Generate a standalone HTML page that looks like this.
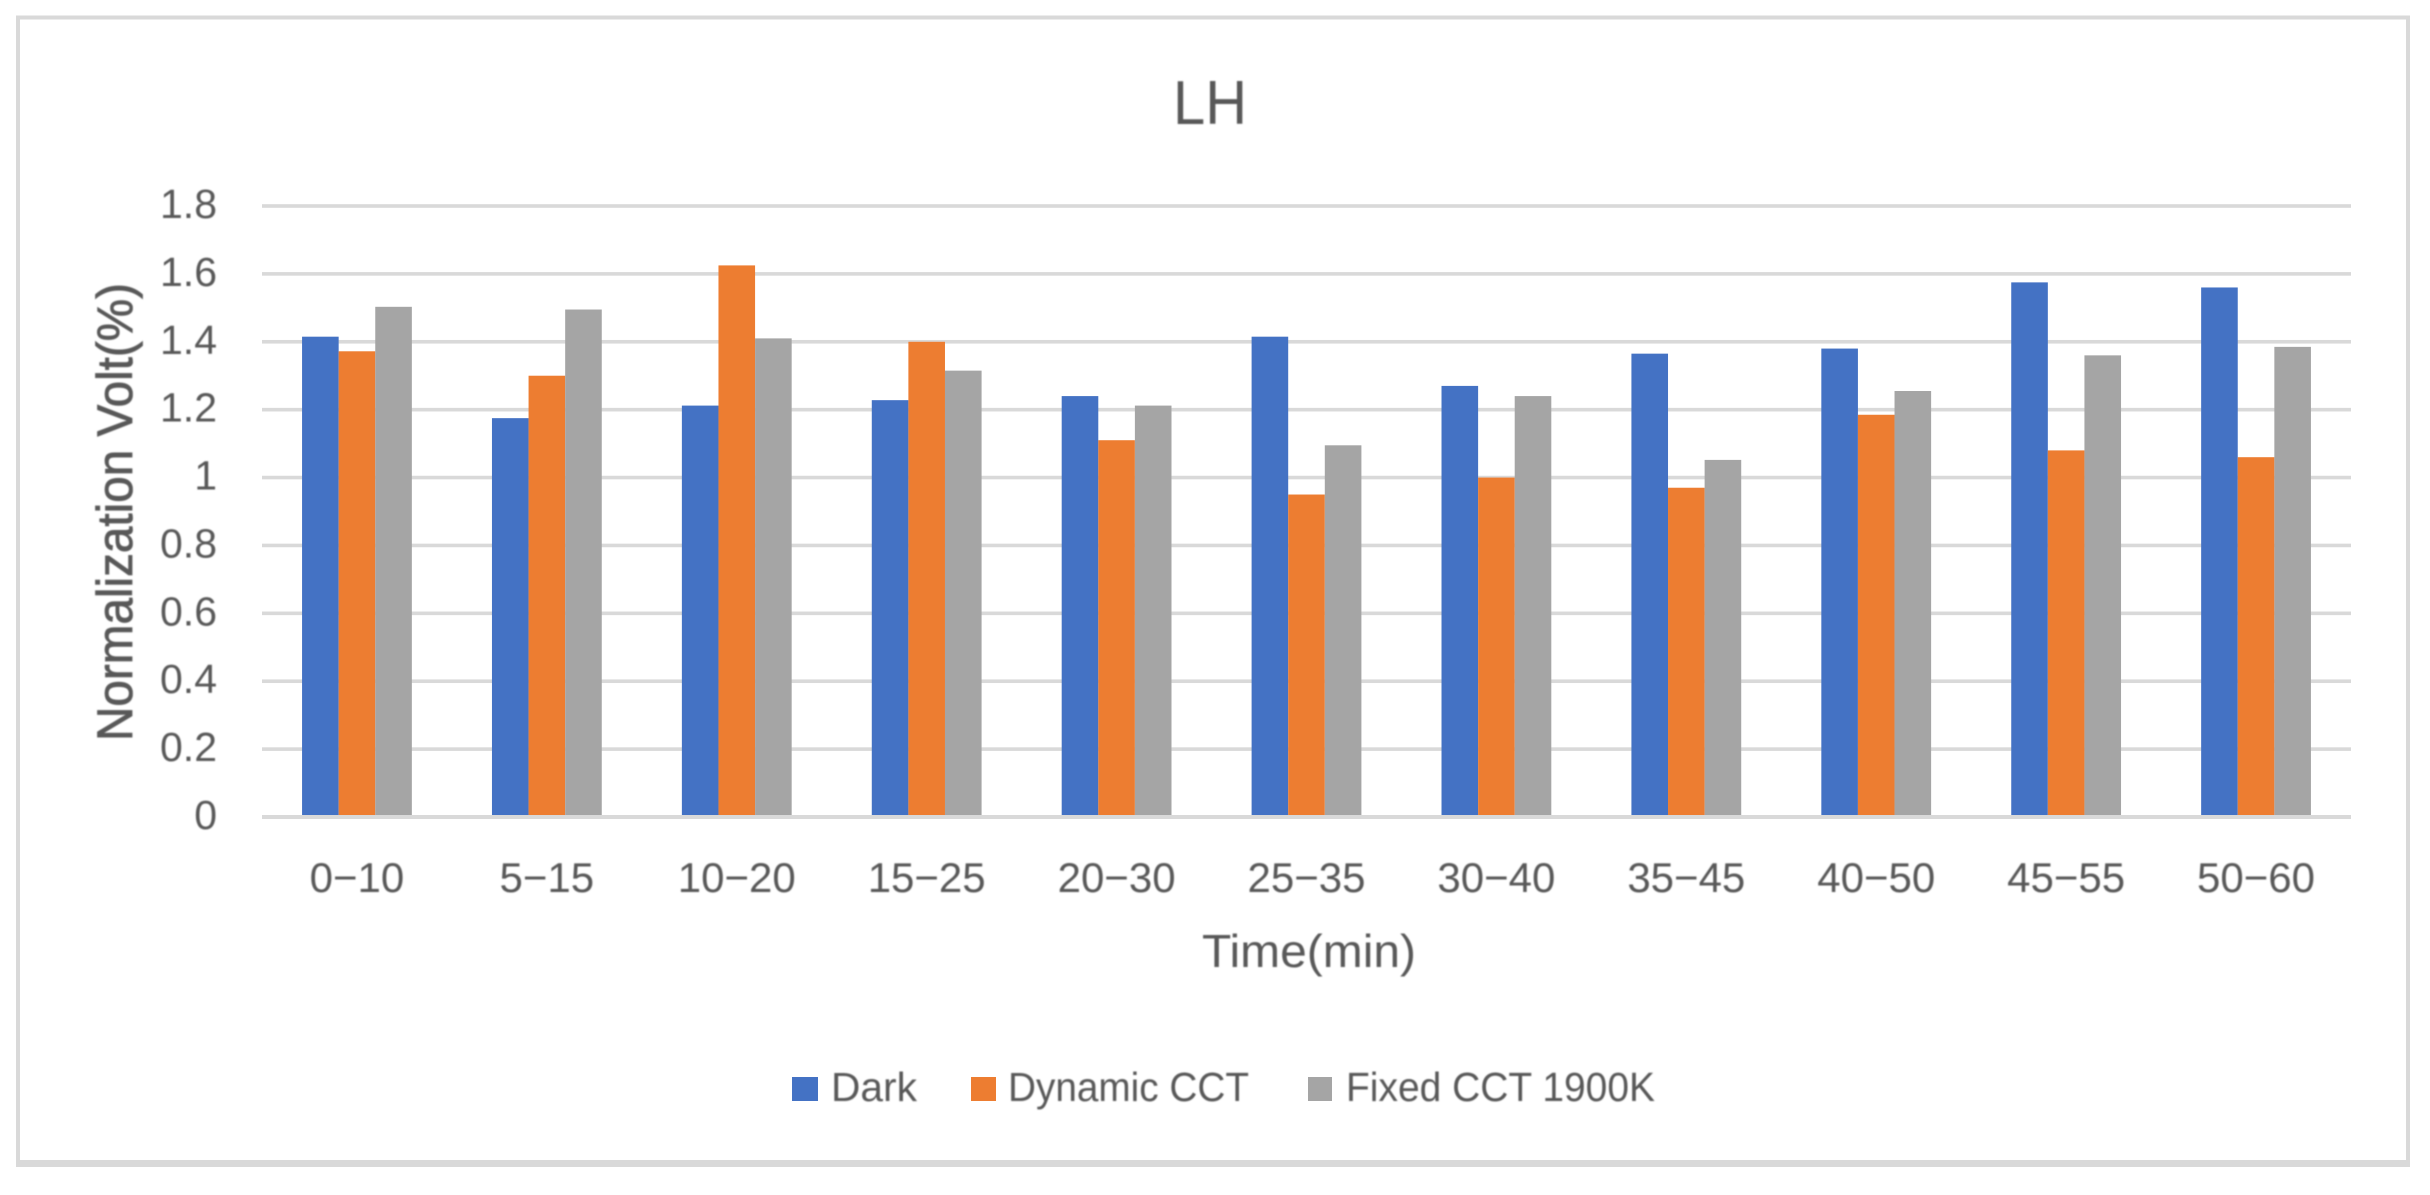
<!DOCTYPE html>
<html lang="en">
<head>
<meta charset="utf-8">
<title>LH Chart</title>
<style>
  html, body { margin: 0; padding: 0; background: #fff; }
  svg { display: block; }
  text { font-family: "Liberation Sans", sans-serif; fill: #595959; }
</style>
</head>
<body>
<svg id="chart" xmlns="http://www.w3.org/2000/svg" width="2430" height="1195" viewBox="0 0 2430 1195">
  <defs>
    <filter id="soft" x="-5%" y="-5%" width="110%" height="110%"><feGaussianBlur stdDeviation="0.8"/></filter>
  </defs>
  <rect x="18" y="17.5" width="2390" height="1146" fill="#fff" stroke="#d9d9d9" stroke-width="4"/>
  <rect x="16" y="1160" width="2394" height="7" fill="#d9d9d9"/>
  <g id="grid"></g>
  <g id="bars"></g>
  <g id="axis"></g>
  <g filter="url(#soft)">
    <text x="1173" y="124" font-size="62" textLength="74" lengthAdjust="spacingAndGlyphs">LH</text>
    <text transform="translate(132,741) rotate(-90)" font-size="50" textLength="458" lengthAdjust="spacingAndGlyphs" stroke="#595959" stroke-width="0.8">Normalization Volt(%)</text>
    <text x="1202" y="967" font-size="46" textLength="214" lengthAdjust="spacingAndGlyphs">Time(min)</text>
    <g id="yticks"></g>
    <g id="xticks"></g>
    <g>
      <text x="831" y="1101" font-size="41" textLength="86" lengthAdjust="spacingAndGlyphs">Dark</text>
      <text x="1008" y="1101" font-size="41" textLength="241" lengthAdjust="spacingAndGlyphs">Dynamic CCT</text>
      <text x="1346" y="1101" font-size="41" textLength="309" lengthAdjust="spacingAndGlyphs">Fixed CCT 1900K</text>
    </g>
  </g>
  <rect x="792" y="1077" width="26" height="24" fill="#4472c4"/>
  <rect x="971" y="1077" width="25" height="24" fill="#ed7d31"/>
  <rect x="1308" y="1077" width="24" height="24" fill="#a5a5a5"/>
</svg>
<script>
const categories = ["0\u221210","5\u221215","10\u221220","15\u221225","20\u221230","25\u221235","30\u221240","35\u221245","40\u221250","45\u221255","50\u221260"];
const darkValues = [1.415,1.175,1.212,1.228,1.24,1.415,1.27,1.365,1.38,1.575,1.56];
const dynamicValues = [1.372,1.30,1.625,1.40,1.11,0.95,1.0,0.97,1.185,1.08,1.06];
const fixedValues = [1.503,1.495,1.41,1.315,1.212,1.095,1.24,1.052,1.255,1.36,1.385];
const yTickLabels = ["0","0.2","0.4","0.6","0.8","1","1.2","1.4","1.6","1.8"];
const yTickValues = [0,0.2,0.4,0.6,0.8,1,1.2,1.4,1.6,1.8];

const NS = 'http://www.w3.org/2000/svg';
const plotLeft = 262, plotRight = 2351, yZero = 817, yTop = 206, yMax = 1.8;
const barWidth = 36.6;
function yScale(v) { return yZero - (v / yMax) * (yZero - yTop); }
function xBand(i) { return plotLeft + (plotRight - plotLeft) / categories.length * (i + 0.5); }

function mk(tag, parentId, attrs) {
  const el = document.createElementNS(NS, tag);
  for (const k in attrs) el.setAttribute(k, attrs[k]);
  document.getElementById(parentId).appendChild(el);
  return el;
}

yTickValues.forEach(function (v, i) {
  if (v !== 0) {
    const line = mk('rect', 'grid', { x: plotLeft, y: yScale(v) - 1.8, width: plotRight - plotLeft, height: 3.6, fill: '#d9d9d9' });
    
    
  }
  const t = mk('text', 'yticks', { x: 217, y: yScale(v) + 12, 'text-anchor': 'end', 'font-size': 41 });
  t.textContent = yTickLabels[i];
  
  
});

const seriesList = [
  { values: darkValues, color: '#4472c4', offset: -1.5 },
  { values: dynamicValues, color: '#ed7d31', offset: -0.5 },
  { values: fixedValues, color: '#a5a5a5', offset: 0.5 }
];
seriesList.forEach(function (s) {
  s.values.forEach(function (v, i) {
    const top = yScale(v);
    const r = mk('rect', 'bars', { x: xBand(i) + s.offset * barWidth, y: top, width: barWidth, height: yZero - top, fill: s.color });
    
    
  });
});

const base = mk('rect', 'axis', { x: plotLeft, y: yZero - 2, width: plotRight - plotLeft, height: 4, fill: '#d9d9d9' });



categories.forEach(function (c, i) {
  const t = mk('text', 'xticks', { x: xBand(i), y: 892, 'text-anchor': 'middle', 'font-size': 42 });
  t.textContent = c;
  
  
});
</script>
</body>
</html>
